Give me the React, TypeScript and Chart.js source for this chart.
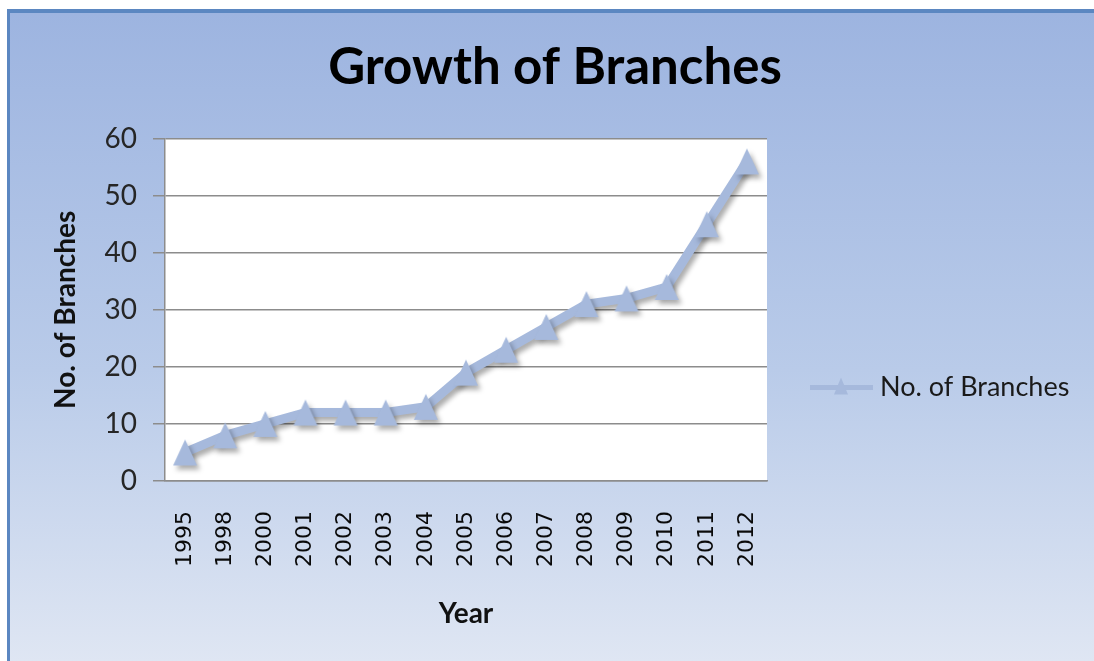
import React, { useEffect, useRef } from "react";
import { Chart, registerables } from "chart.js";

Chart.register(...registerables);

const years: string[] = [
  "1995", "1998", "2000", "2001", "2002", "2003", "2004", "2005",
  "2006", "2007", "2008", "2009", "2010", "2011", "2012",
];
const branches: number[] = [5, 8, 10, 12, 12, 12, 13, 19, 23, 27, 31, 32, 34, 45, 56];
const seriesLabel = "No. of Branches";
const chartTitle = "Growth of Branches";
const xTitle = "Year";
const yTitle = "No. of Branches";
const yTicks = { min: 0, max: 60, step: 10 };

const LINE_COLOR = "#a6b9dc";
const GRID_COLOR = "#8c8c8c";
const FRAME_COLOR = "#5b87c1";

function makeTriangle(w: number, h: number, color: string): HTMLCanvasElement {
  const c = document.createElement("canvas");
  c.width = w + 2;
  c.height = h + 2;
  const g = c.getContext("2d")!;
  g.fillStyle = color;
  g.beginPath();
  g.moveTo(c.width / 2, 1);
  g.lineTo(c.width - 1, h + 1);
  g.lineTo(1, h + 1);
  g.closePath();
  g.fill();
  return c;
}

const background = {
  id: "background",
  beforeDraw(chart: any) {
    const { ctx, chartArea, width, height } = chart;
    ctx.save();
    ctx.fillStyle = "#ffffff";
    ctx.fillRect(0, 0, width, height);
    const grad = ctx.createLinearGradient(0, 13, 0, height);
    grad.addColorStop(0, "#9db4e0");
    grad.addColorStop(0.55, "#b9cbe9");
    grad.addColorStop(1, "#dfe6f3");
    ctx.fillStyle = grad;
    ctx.fillRect(10, 13, width - 10, height - 13);
    ctx.fillStyle = FRAME_COLOR;
    ctx.fillRect(7, 9, 3, height - 9);
    ctx.fillRect(7, 9, width - 7, 4);
    ctx.fillStyle = "#ffffff";
    ctx.fillRect(chartArea.left, chartArea.top, chartArea.right - chartArea.left, chartArea.bottom - chartArea.top);
    ctx.restore();
  },
};

const shadow = {
  id: "shadow",
  beforeDatasetsDraw(chart: any) {
    const ctx = chart.ctx;
    ctx.save();
    ctx.shadowColor = "rgba(0,0,0,0.33)";
    ctx.shadowBlur = 5;
    ctx.shadowOffsetX = 3;
    ctx.shadowOffsetY = 4;
  },
  afterDatasetsDraw(chart: any) {
    chart.ctx.restore();
  },
};

const sideLegend = {
  id: "sideLegend",
  afterDraw(chart: any) {
    const { ctx, chartArea } = chart;
    const ds = chart.data.datasets[0];
    const x0 = chartArea.right + 43;
    const y = chartArea.top + 249;
    ctx.save();
    ctx.strokeStyle = ds.borderColor;
    ctx.lineWidth = 5;
    ctx.beginPath();
    ctx.moveTo(x0, y);
    ctx.lineTo(x0 + 63, y);
    ctx.stroke();
    const cx = x0 + 31;
    ctx.fillStyle = ds.backgroundColor;
    ctx.beginPath();
    ctx.moveTo(cx, y - 10);
    ctx.lineTo(cx + 7, y + 7);
    ctx.lineTo(cx - 7, y + 7);
    ctx.closePath();
    ctx.fill();
    ctx.fillStyle = "#1a1a1a";
    ctx.font = "27px Lato";
    ctx.textAlign = "left";
    ctx.textBaseline = "middle";
    ctx.fillText(ds.label, x0 + 70, y);
    ctx.restore();
  },
};

export default function App() {
  const ref = useRef<HTMLCanvasElement | null>(null);

  useEffect(() => {
    let chart: Chart | null = null;
    let cancelled = false;
    const build = () => {
      if (cancelled || !ref.current) return;
      const marker = makeTriangle(24, 26, LINE_COLOR);
      chart = new Chart(ref.current, {
        type: "line",
        data: {
          labels: years,
          datasets: [
            {
              label: seriesLabel,
              data: branches,
              yAxisID: "y",
              borderColor: LINE_COLOR,
              backgroundColor: LINE_COLOR,
              borderWidth: 9,
              borderJoinStyle: "round",
              tension: 0,
              pointStyle: marker,
              pointRadius: 13,
              pointHoverRadius: 13,
              pointBorderWidth: 0,
              pointBackgroundColor: LINE_COLOR,
              pointBorderColor: LINE_COLOR,
            },
          ],
        },
        options: {
          animation: false,
          responsive: false,
          layout: { padding: { left: 16, right: 0, top: 0, bottom: 28 } },
          plugins: {
            legend: { display: false },
            tooltip: { enabled: false },
            title: {
              display: true,
              text: chartTitle,
              color: "#000",
              font: { family: "Lato", weight: "bold", size: 51, lineHeight: 1.2 },
              padding: { top: 37.4, bottom: 40 },
            },
          },
          scales: {
            x: {
              type: "category",
              offset: true,
              grid: { display: false, drawTicks: false },
              border: { display: true, color: GRID_COLOR, width: 1.5 },
              ticks: {
                maxRotation: 90,
                minRotation: 90,
                autoSkip: false,
                padding: 30,
                color: "#0a0a0a",
                font: { family: "DejaVu Sans", size: 22 },
              },
              title: {
                display: true,
                text: xTitle,
                color: "#111",
                font: { family: "Lato", weight: "bold", size: 28, lineHeight: 1.2 },
                padding: { top: 4, bottom: 2 },
              },
              afterFit: (s: any) => {
                s.height = 152;
              },
            },
            y: {
              position: "left",
              min: yTicks.min,
              max: yTicks.max,
              ticks: {
                stepSize: yTicks.step,
                padding: 16,
                color: "#262626",
                font: { family: "Lato", size: 28 },
              },
              grid: { color: GRID_COLOR, lineWidth: 1.5, tickLength: 12, drawTicks: true },
              border: { display: true, color: GRID_COLOR, width: 1.5 },
              title: {
                display: true,
                text: yTitle,
                color: "#111",
                font: { family: "Lato", weight: "bold", size: 28, lineHeight: 1.2 },
                padding: { top: 33.2, bottom: 4 },
              },
              afterFit: (s: any) => {
                s.width = 149;
              },
            },
            legendSpace: {
              position: "right",
              display: true,
              grid: { display: false, drawTicks: false },
              border: { display: false },
              ticks: { display: false },
              afterFit: (s: any) => {
                s.width = 327;
              },
            },
          },
        } as any,
        plugins: [background, shadow, sideLegend],
      });
    };
    const fonts = (document as any).fonts;
    if (fonts && fonts.load) {
      Promise.all([
        fonts.load("bold 50px Lato"),
        fonts.load("28px Lato"),
        fonts.load('22px "DejaVu Sans"'),
      ])
        .catch(() => null)
        .then(build);
    } else {
      build();
    }
    return () => {
      cancelled = true;
      if (chart) chart.destroy();
    };
  }, []);

  return (
    <div style={{ position: "absolute", left: 0, top: 0, width: 1094, height: 661, overflow: "hidden" }}>
      <canvas
        ref={ref}
        width={1094}
        height={661}
        style={{ display: "block", width: 1094, height: 661 }}
      />
    </div>
  );
}
